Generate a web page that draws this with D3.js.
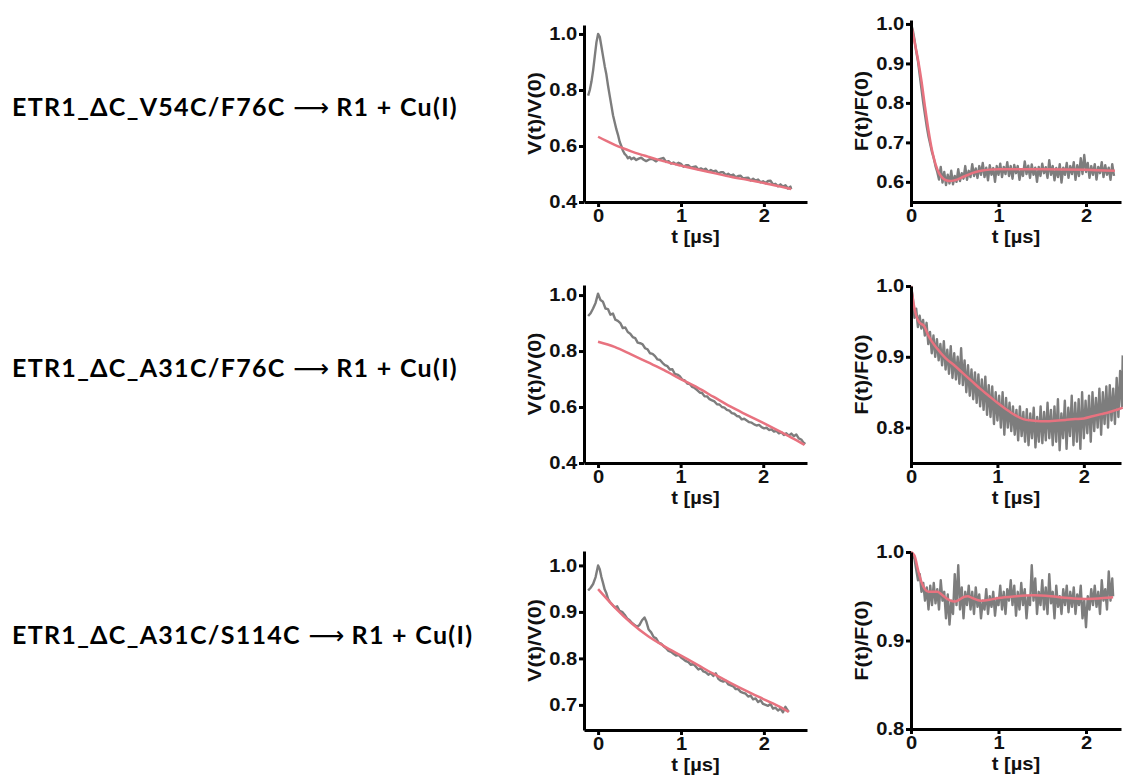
<!DOCTYPE html>
<html>
<head>
	<meta charset="utf-8">
	<style>
		body { margin: 0; background: #fff; }
		.axis path, .axis line { stroke: #000; stroke-width: 3px; }
		.axis text { font-family: "Liberation Sans", Arial, sans-serif; font-weight: bold; font-size: 18px; fill: #111; }
		.title { font-family: "Liberation Sans", Arial, sans-serif; font-weight: bold; font-size: 18px; fill: #111; }
		.rowlabel { font-family: Lato, "Open Sans", sans-serif; font-weight: bold; font-size: 25px; letter-spacing: 1.3px; fill: #000; }
		.data { fill: none; stroke: #7d7d7d; stroke-width: 2.4px; stroke-linejoin: round; }
		.fit { fill: none; stroke: #e8727f; stroke-width: 2.5px; }
	</style>
	<script src="https://cdn.jsdelivr.net/npm/d3@7"></script>
</head>
<body>
<svg width="1123" height="776"></svg>
<script>

// row labels
var rowLabels = ["ETR1_\u0394C_V54C/F76C", "ETR1_\u0394C_A31C/F76C", "ETR1_\u0394C_A31C/S114C"];

// tick values
var xTicks = [0, 1, 2];
var yTicksV1 = [0.4, 0.6, 0.8, 1.0];
var yTicksF1 = [0.6, 0.7, 0.8, 0.9, 1.0];
var yTicksV2 = [0.4, 0.6, 0.8, 1.0];
var yTicksF2 = [0.8, 0.9, 1.0];
var yTicksV3 = [0.7, 0.8, 0.9, 1.0];
var yTicksF3 = [0.8, 0.9, 1.0];

// V(t)/V(0) row 1
var dataV1 = [[-0.12,0.78],[-0.10,0.80],[-0.08,0.83],[-0.06,0.87],[-0.04,0.92],[-0.02,0.97],[0.00,1.00],[0.02,0.99],[0.04,0.955],[0.06,0.92],[0.08,0.885],[0.10,0.855],[0.12,0.815],[0.14,0.78],[0.16,0.745],[0.18,0.71],[0.20,0.685],[0.22,0.66],[0.24,0.64],[0.26,0.615],[0.28,0.60],[0.30,0.583],[0.32,0.572],[0.34,0.566],[0.36,0.556],[0.38,0.561],[0.40,0.553],
	[0.43,0.558],[0.46,0.55],[0.49,0.555],[0.52,0.558],[0.55,0.551],[0.58,0.546],[0.61,0.551],[0.64,0.554],[0.67,0.551],[0.70,0.545],[0.73,0.552],[0.76,0.555],[0.79,0.557],[0.82,0.543],[0.85,0.546],[0.88,0.537],[0.91,0.541],[0.94,0.535],[0.97,0.54],[1.00,0.536],[1.03,0.526],[1.06,0.531],[1.09,0.531],[1.12,0.523],[1.15,0.525],[1.18,0.527],[1.21,0.516],[1.24,0.52],[1.27,0.515],[1.30,0.519],[1.33,0.508],[1.36,0.514],[1.39,0.509],[1.42,0.512],[1.45,0.502],[1.48,0.506],[1.51,0.506],[1.54,0.496],[1.57,0.501],[1.60,0.494],[1.63,0.498],[1.66,0.488],[1.69,0.493],[1.72,0.494],[1.75,0.484],[1.78,0.486],[1.81,0.487],[1.84,0.477],[1.87,0.483],[1.90,0.476],[1.93,0.48],[1.96,0.47],[1.99,0.474],[2.02,0.467],[2.05,0.475],[2.08,0.476],[2.11,0.463],[2.14,0.465],[2.17,0.456],[2.20,0.463],[2.23,0.455],[2.26,0.46],[2.29,0.448],[2.32,0.455],[2.33,0.446]];
var fitV1 = [[0,0.633],[0.1,0.618],[0.2,0.604],[0.3,0.592],[0.4,0.581],[0.5,0.571],[0.6,0.562],[0.7,0.553],[0.8,0.545],[0.9,0.537],[1.0,0.53],[1.2,0.516],[1.4,0.503],[1.6,0.49],[1.8,0.479],[2.0,0.468],[2.2,0.455],[2.33,0.446]];

// F(t)/F(0) row 1
var dataF1 = [[0,1.0],[0.02,0.985],[0.04,0.96],[0.06,0.93],[0.08,0.905],[0.10,0.87],[0.12,0.835],[0.14,0.80],[0.16,0.77],[0.18,0.74],[0.20,0.715],[0.22,0.695],[0.24,0.675],[0.26,0.66],[0.28,0.64],[0.30,0.625],
	[0.32,0.606],[0.34,0.638],[0.36,0.598],[0.38,0.625],[0.40,0.592],[0.42,0.618],[0.44,0.596],[0.46,0.628],[0.48,0.594],[0.50,0.615],[0.52,0.6],[0.54,0.632],[0.56,0.602],[0.58,0.622],[0.60,0.608],[0.62,0.64],[0.64,0.605],[0.66,0.628],[0.68,0.612],[0.70,0.645],[0.72,0.615],[0.74,0.634],[0.76,0.61],[0.78,0.64],[0.80,0.618],[0.82,0.648],[0.84,0.612],[0.86,0.636],[0.88,0.604],[0.90,0.642],[0.92,0.618],[0.94,0.635],[0.96,0.6],[0.98,0.64],[1.00,0.618],[1.02,0.646],[1.04,0.612],[1.06,0.638],[1.08,0.62],[1.10,0.65],[1.12,0.615],[1.14,0.64],[1.16,0.608],[1.18,0.643],[1.20,0.622],[1.22,0.64],[1.24,0.605],[1.26,0.632],[1.28,0.615],[1.30,0.652],[1.32,0.62],[1.34,0.641],[1.36,0.61],[1.38,0.644],[1.40,0.618],[1.42,0.636],[1.44,0.6],[1.46,0.638],[1.48,0.615],[1.50,0.646],[1.52,0.622],[1.54,0.637],[1.56,0.61],[1.58,0.655],[1.60,0.618],[1.62,0.64],[1.64,0.604],[1.66,0.635],[1.68,0.612],[1.70,0.645],[1.72,0.598],[1.74,0.636],[1.76,0.618],[1.78,0.648],[1.80,0.61],[1.82,0.64],[1.84,0.62],[1.86,0.65],[1.88,0.605],[1.90,0.642],[1.92,0.615],[1.94,0.66],[1.96,0.62],[1.98,0.668],[2.00,0.625],[2.02,0.648],[2.04,0.61],[2.06,0.64],[2.08,0.618],[2.10,0.645],[2.12,0.606],[2.14,0.638],[2.16,0.622],[2.18,0.65],[2.20,0.612],[2.22,0.642],[2.24,0.618],[2.26,0.636],[2.28,0.605],[2.30,0.645],[2.32,0.615]];
var fitF1 = [[0,1.0],[0.04,0.955],[0.08,0.91],[0.12,0.855],[0.16,0.79],[0.20,0.73],[0.24,0.68],[0.28,0.645],[0.32,0.622],[0.36,0.61],[0.40,0.604],[0.45,0.602],[0.50,0.604],[0.60,0.613],[0.70,0.622],[0.80,0.628],[0.90,0.631],[1.0,0.632],[1.5,0.632],[2.0,0.631],[2.33,0.628]];

// V(t)/V(0) row 2
var dataV2 = [[-0.12,0.925],[-0.09,0.935],[-0.06,0.952],[-0.03,0.972],[0.00,1.005],[0.03,0.982],[0.06,0.976],[0.09,0.952],[0.12,0.95],[0.15,0.93],[0.18,0.934],[0.21,0.912],[0.24,0.908],[0.27,0.9],[0.30,0.882],[0.33,0.884],[0.36,0.868],[0.39,0.862],[0.42,0.85],[0.45,0.846],[0.48,0.83],[0.51,0.828],[0.54,0.824],[0.57,0.81],[0.60,0.806],[0.63,0.792],[0.66,0.79],[0.69,0.782],[0.72,0.77],[0.75,0.768],[0.78,0.758],[0.81,0.75],[0.84,0.746],[0.87,0.734],[0.90,0.735],[0.93,0.718],[0.96,0.716],[0.99,0.71],[1.02,0.698],[1.05,0.695],[1.08,0.684],[1.11,0.682],[1.14,0.672],[1.17,0.668],[1.20,0.66],[1.23,0.652],[1.26,0.65],[1.29,0.638],[1.32,0.638],[1.35,0.628],[1.38,0.624],[1.41,0.62],[1.44,0.61],[1.47,0.609],[1.50,0.6],[1.53,0.598],[1.56,0.59],[1.59,0.587],[1.62,0.578],[1.65,0.576],[1.68,0.568],[1.71,0.566],[1.74,0.556],[1.77,0.558],[1.80,0.552],[1.83,0.546],[1.86,0.544],[1.89,0.538],[1.92,0.534],[1.95,0.536],[1.98,0.528],[2.01,0.524],[2.04,0.526],[2.07,0.518],[2.10,0.52],[2.13,0.512],[2.16,0.515],[2.19,0.506],[2.22,0.51],[2.25,0.5],[2.28,0.506],[2.31,0.498],[2.34,0.505],[2.37,0.496],[2.40,0.502],[2.43,0.488],[2.46,0.484],[2.49,0.472],[2.51,0.468]];
var fitV2 = [[0,0.833],[0.2,0.815],[0.4,0.788],[0.6,0.76],[0.8,0.732],[1.0,0.70],[1.2,0.67],[1.4,0.636],[1.6,0.602],[1.8,0.572],[2.0,0.543],[2.2,0.513],[2.4,0.482],[2.5,0.465]];

// F(t)/F(0) row 2
var dataF2 = [[0,1.0],[0.02,0.985],[0.04,0.955],[0.06,0.968],[0.08,0.942],[0.10,0.958],[0.12,0.94],[0.14,0.952],[0.16,0.93],[0.18,0.948],[0.20,0.918],[0.22,0.935],[0.24,0.905],[0.26,0.93],[0.28,0.9],[0.30,0.925],[0.32,0.895],[0.34,0.918],[0.36,0.888],[0.38,0.922],[0.40,0.882],[0.42,0.91],[0.44,0.876],[0.46,0.915],[0.48,0.87],[0.50,0.905],[0.52,0.868],[0.54,0.9],[0.56,0.862],[0.58,0.912],[0.60,0.86],[0.62,0.895],[0.64,0.85],[0.66,0.888],[0.68,0.845],[0.70,0.882],[0.72,0.84],[0.74,0.878],[0.76,0.835],[0.78,0.875],[0.80,0.83],[0.82,0.868],[0.84,0.825],[0.86,0.872],[0.88,0.818],[0.90,0.86],[0.92,0.815],[0.94,0.858],[0.96,0.805],[0.98,0.85],[1.00,0.81],[1.02,0.845],[1.04,0.8],[1.06,0.85],[1.08,0.79],[1.10,0.842],[1.12,0.8],[1.14,0.835],[1.16,0.795],[1.18,0.83],[1.20,0.79],[1.22,0.825],[1.24,0.782],[1.26,0.83],[1.28,0.788],[1.30,0.822],[1.32,0.78],[1.34,0.826],[1.36,0.775],[1.38,0.82],[1.40,0.785],[1.42,0.828],[1.44,0.772],[1.46,0.815],[1.48,0.78],[1.50,0.83],[1.52,0.778],[1.54,0.822],[1.56,0.782],[1.58,0.835],[1.60,0.785],[1.62,0.825],[1.64,0.775],[1.66,0.83],[1.68,0.78],[1.70,0.84],[1.72,0.768],[1.74,0.82],[1.76,0.785],[1.78,0.838],[1.80,0.77],[1.82,0.828],[1.84,0.788],[1.86,0.845],[1.88,0.775],[1.90,0.835],[1.92,0.78],[1.94,0.84],[1.96,0.77],[1.98,0.85],[2.00,0.785],[2.02,0.838],[2.04,0.792],[2.06,0.845],[2.08,0.78],[2.10,0.85],[2.12,0.795],[2.14,0.842],[2.16,0.8],[2.18,0.855],[2.20,0.79],[2.22,0.85],[2.24,0.805],[2.26,0.858],[2.28,0.8],[2.30,0.86],[2.32,0.81],[2.34,0.855],[2.36,0.805],[2.38,0.87],[2.40,0.815],[2.42,0.88],[2.44,0.83],[2.45,0.902]];
var fitF2 = [[0,1.0],[0.03,0.975],[0.06,0.958],[0.1,0.948],[0.15,0.944],[0.2,0.93],[0.3,0.912],[0.4,0.898],[0.5,0.888],[0.6,0.877],[0.7,0.866],[0.8,0.855],[0.9,0.845],[1.0,0.835],[1.1,0.826],[1.2,0.818],[1.3,0.812],[1.4,0.81],[1.5,0.809],[1.6,0.809],[1.7,0.81],[1.8,0.811],[1.9,0.812],[2.0,0.813],[2.1,0.816],[2.2,0.819],[2.3,0.822],[2.4,0.826],[2.45,0.828]];

// V(t)/V(0) row 3
var dataV3 = [[-0.12,0.946],[-0.09,0.952],[-0.06,0.96],[-0.03,0.975],[0.00,1.0],[0.02,0.992],[0.04,0.975],[0.06,0.962],[0.08,0.948],[0.10,0.94],[0.12,0.928],[0.14,0.922],[0.17,0.916],[0.20,0.91],[0.23,0.912],[0.26,0.902],[0.29,0.9],[0.32,0.894],[0.35,0.886],[0.38,0.882],[0.41,0.876],[0.44,0.872],[0.47,0.868],[0.50,0.872],[0.53,0.882],[0.56,0.888],[0.58,0.88],[0.61,0.862],[0.64,0.856],[0.67,0.846],[0.70,0.843],[0.73,0.834],[0.76,0.832],[0.79,0.826],[0.82,0.822],[0.85,0.816],[0.88,0.814],[0.91,0.81],[0.94,0.806],[0.97,0.808],[1.00,0.802],[1.03,0.798],[1.06,0.794],[1.09,0.792],[1.12,0.786],[1.15,0.788],[1.18,0.782],[1.21,0.776],[1.24,0.779],[1.27,0.772],[1.30,0.77],[1.33,0.765],[1.36,0.768],[1.39,0.762],[1.42,0.768],[1.45,0.756],[1.48,0.752],[1.51,0.75],[1.54,0.752],[1.57,0.744],[1.60,0.742],[1.63,0.74],[1.66,0.734],[1.69,0.734],[1.72,0.728],[1.75,0.726],[1.78,0.724],[1.81,0.718],[1.84,0.72],[1.87,0.712],[1.90,0.714],[1.93,0.706],[1.96,0.71],[1.99,0.702],[2.02,0.7],[2.05,0.698],[2.08,0.702],[2.11,0.692],[2.14,0.694],[2.17,0.688],[2.20,0.692],[2.23,0.684],[2.26,0.696],[2.28,0.69],[2.30,0.685]];
var fitV3 = [[0,0.949],[0.2,0.91],[0.4,0.876],[0.6,0.848],[0.8,0.826],[1.0,0.806],[1.2,0.786],[1.4,0.766],[1.6,0.747],[1.8,0.729],[2.0,0.712],[2.2,0.695],[2.3,0.685]];

// F(t)/F(0) row 3
var dataF3 = [[0,1.0],[0.02,0.998],[0.04,0.992],[0.06,0.98],[0.08,0.968],[0.10,0.975],[0.12,0.955],[0.14,0.965],[0.16,0.945],[0.18,0.96],[0.20,0.935],[0.22,0.962],[0.24,0.94],[0.26,0.965],[0.28,0.942],[0.30,0.958],[0.32,0.935],[0.34,0.968],[0.36,0.945],[0.38,0.955],[0.40,0.925],[0.42,0.952],[0.44,0.918],[0.46,0.945],[0.48,0.93],[0.50,0.975],[0.52,0.94],[0.54,0.985],[0.56,0.935],[0.58,0.96],[0.60,0.925],[0.62,0.955],[0.64,0.94],[0.66,0.962],[0.68,0.935],[0.70,0.955],[0.72,0.93],[0.74,0.96],[0.76,0.938],[0.78,0.952],[0.80,0.925],[0.82,0.945],[0.84,0.935],[0.86,0.958],[0.88,0.93],[0.90,0.95],[0.92,0.938],[0.94,0.955],[0.96,0.928],[0.98,0.948],[1.00,0.94],[1.02,0.962],[1.04,0.935],[1.06,0.955],[1.08,0.93],[1.10,0.958],[1.12,0.945],[1.14,0.968],[1.16,0.94],[1.18,0.962],[1.20,0.928],[1.22,0.955],[1.24,0.935],[1.26,0.965],[1.28,0.94],[1.30,0.958],[1.32,0.925],[1.34,0.95],[1.36,0.94],[1.38,0.985],[1.40,0.945],[1.42,0.97],[1.44,0.93],[1.46,0.955],[1.48,0.94],[1.50,0.968],[1.52,0.935],[1.54,0.96],[1.56,0.93],[1.58,0.975],[1.60,0.942],[1.62,0.955],[1.64,0.925],[1.66,0.962],[1.68,0.938],[1.70,0.95],[1.72,0.93],[1.74,0.958],[1.76,0.94],[1.78,0.962],[1.80,0.932],[1.82,0.955],[1.84,0.938],[1.86,0.96],[1.88,0.93],[1.90,0.952],[1.92,0.94],[1.94,0.962],[1.96,0.925],[1.98,0.945],[2.00,0.915],[2.02,0.95],[2.04,0.935],[2.06,0.958],[2.08,0.94],[2.10,0.962],[2.12,0.938],[2.14,0.955],[2.16,0.93],[2.18,0.968],[2.20,0.945],[2.22,0.958],[2.24,0.935],[2.26,0.978],[2.28,0.945],[2.30,0.97],[2.31,0.95]];
var fitF3 = [[0,1.0],[0.04,0.996],[0.08,0.98],[0.12,0.966],[0.16,0.958],[0.2,0.955],[0.25,0.955],[0.3,0.955],[0.35,0.952],[0.4,0.948],[0.45,0.945],[0.5,0.944],[0.55,0.946],[0.6,0.949],[0.65,0.95],[0.7,0.948],[0.8,0.945],[0.9,0.946],[1.0,0.948],[1.2,0.95],[1.4,0.951],[1.6,0.95],[1.8,0.948],[2.0,0.947],[2.2,0.948],[2.31,0.949]];

var svg = d3.select("svg");

// panel boxes in pixels, and axis domains
var panels = [
	{left: 584, right: 807, top: 25, bottom: 202, xd: [-0.17, 2.52], yd: [0.4, 1.032], yt: yTicksV1, lab: "V(t)/V(0)", data: dataV1, fit: fitV1},
	{left: 911, right: 1121, top: 20, bottom: 202, xd: [0, 2.4], yd: [0.549, 1.01], yt: yTicksF1, lab: "F(t)/F(0)", data: dataF1, fit: fitF1},
	{left: 584, right: 807, top: 285, bottom: 463, xd: [-0.17, 2.53], yd: [0.4, 1.036], yt: yTicksV2, lab: "V(t)/V(0)", data: dataV2, fit: fitV2},
	{left: 911, right: 1121, top: 286, bottom: 463, xd: [0, 2.43], yd: [0.75, 1.0], yt: yTicksF2, lab: "F(t)/F(0)", data: dataF2, fit: fitF2},
	{left: 584, right: 807, top: 551, bottom: 730, xd: [-0.17, 2.52], yd: [0.646, 1.031], yt: yTicksV3, lab: "V(t)/V(0)", data: dataV3, fit: fitV3},
	{left: 911, right: 1121, top: 552, bottom: 729, xd: [0, 2.4], yd: [0.8, 1.0], yt: yTicksF3, lab: "F(t)/F(0)", data: dataF3, fit: fitF3}
];

panels.forEach(function(p) {
	var x = d3.scaleLinear().domain(p.xd).range([p.left, p.right]);
	var y = d3.scaleLinear().domain(p.yd).range([p.bottom, p.top]);
	var line = d3.line()
		.x(function(d) { return x(d[0]); })
		.y(function(d) { return y(d[1]); });

	svg.append("path").datum(p.data).attr("class", "data").attr("d", line);
	svg.append("path").datum(p.fit).attr("class", "fit")
		.attr("d", line.curve(d3.curveMonotoneX));

	// prism-style text is a bit wider than arial, so stretch it
	svg.append("g")
		.attr("class", "axis")
		.attr("transform", "translate(0," + p.bottom + ")")
		.call(d3.axisBottom(x).tickValues(xTicks).tickSize(5).tickSizeOuter(0).tickPadding(2).tickFormat(d3.format("d")))
		.selectAll("text").attr("transform", "scale(1.12,1)");

	svg.append("g")
		.attr("class", "axis")
		.attr("transform", "translate(" + p.left + ",0)")
		.call(d3.axisLeft(y).tickValues(p.yt).tickSize(5).tickSizeOuter(0).tickPadding(1).tickFormat(d3.format(".1f")))
		.selectAll("text").attr("transform", "scale(1.12,1)");

	svg.append("text")
		.attr("class", "title")
		.attr("transform", "translate(" + ((p.left + p.right) / 2) + "," + (p.bottom + 41) + ") scale(1.12,1)")
		.attr("text-anchor", "middle")
		.text("t [\u00b5s]");

	svg.append("text")
		.attr("class", "title")
		.attr("transform", "translate(" + (p.left - 43) + "," + ((p.top + p.bottom) / 2) + ") rotate(-90) scale(1.2,1)")
		.attr("text-anchor", "middle")
		.text(p.lab);
});

var rowY = [107, 368, 635];
rowLabels.forEach(function(t, i) {
	var txt = svg.append("text")
		.attr("class", "rowlabel")
		.attr("x", 12)
		.attr("y", rowY[i])
		.attr("dy", "0.35em");
	txt.append("tspan").text(t + " ");
	txt.append("tspan").attr("font-weight", "normal").attr("font-family", "DejaVu Sans").attr("letter-spacing", 0).text("\u27f6");
	txt.append("tspan").text(" R1 + Cu(I)");
});

</script>
</body>
</html>
